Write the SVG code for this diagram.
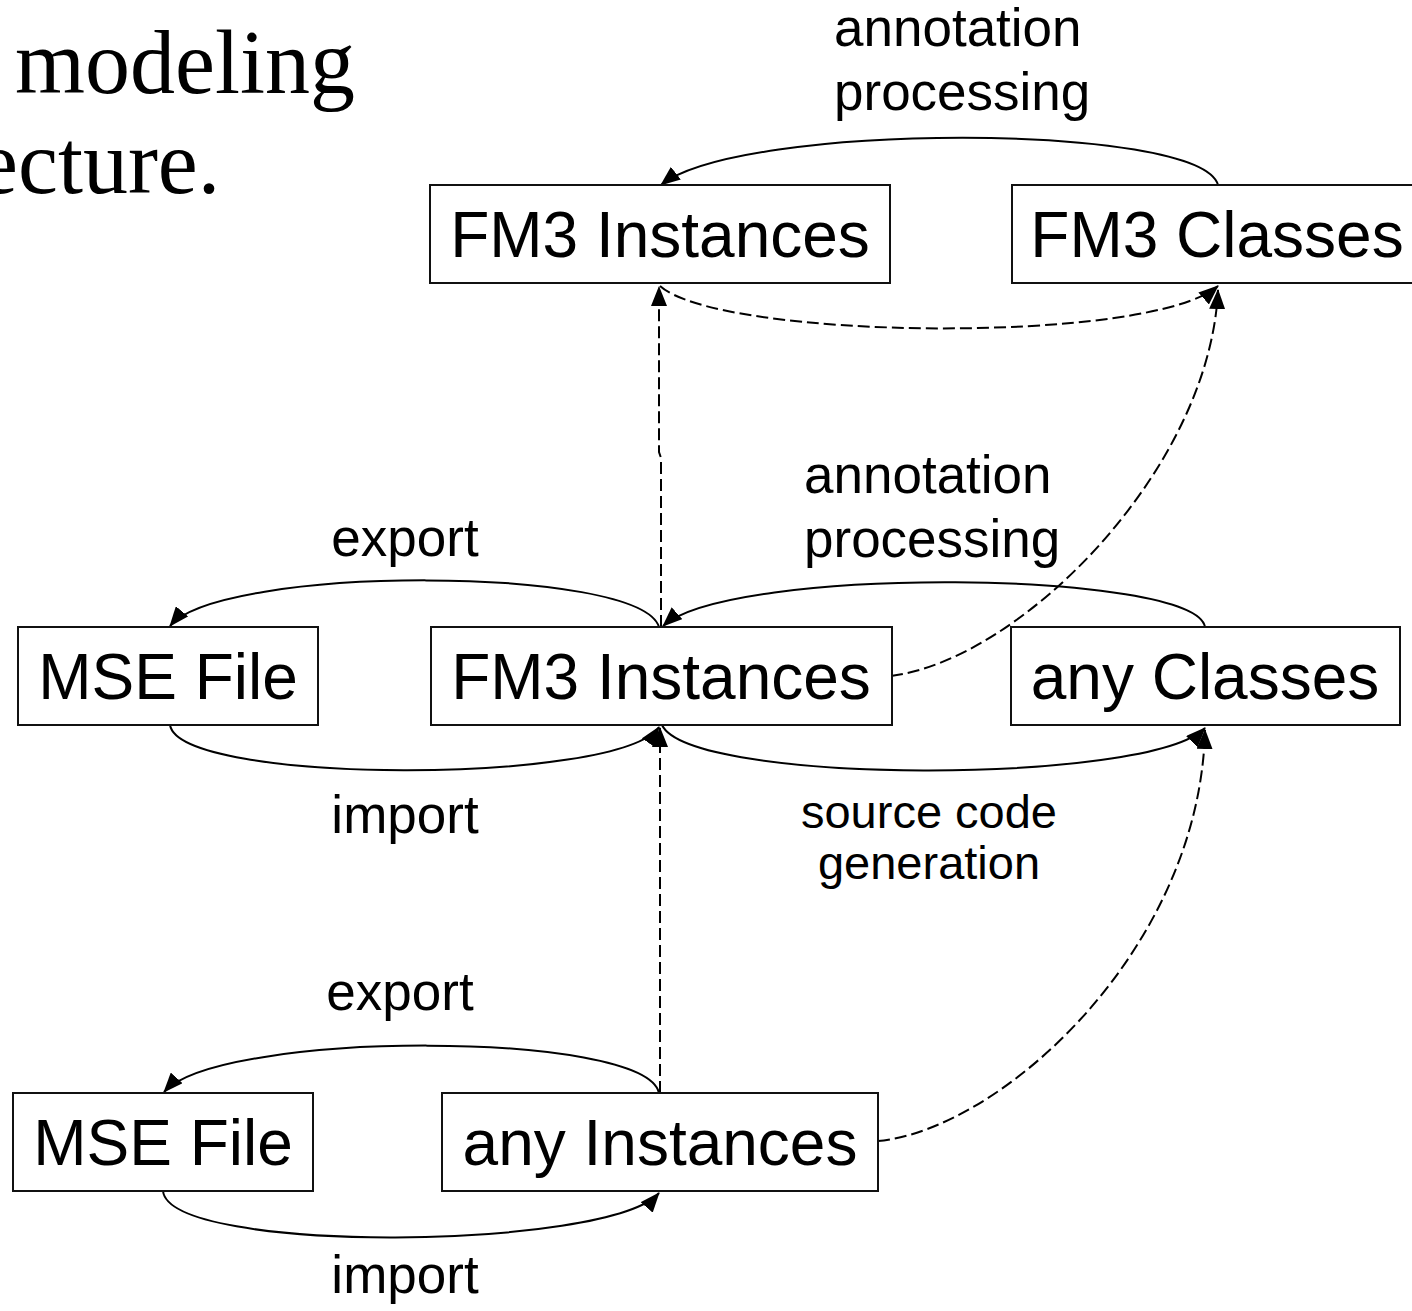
<svg xmlns="http://www.w3.org/2000/svg" width="1412" height="1311" viewBox="0 0 1412 1311">
<style>
.node rect{fill:#fff;stroke:#111;stroke-width:2}
.node text{font-family:"Liberation Sans",Arial,sans-serif;font-size:64px;fill:#000;text-anchor:middle}
.lbl{font-family:"Liberation Sans",Arial,sans-serif;font-size:53px;fill:#000}
.sm{font-size:47px}
.title{font-family:"Liberation Serif","DejaVu Serif",serif;font-size:90px;fill:#000}
.c{fill:none;stroke:#000;stroke-width:2;marker-end:url(#ah)}
.d{stroke-dasharray:12 5}
</style>
<defs>
<marker id="ah" viewBox="0 0 20 16" refX="19" refY="8" markerWidth="20" markerHeight="16" markerUnits="userSpaceOnUse" orient="auto">
<path d="M0,0 L20,8 L0,16 z" fill="#000"/>
</marker>
</defs>
<rect width="1412" height="1311" fill="#fff"/>
<text class="title" x="15" y="93">modeling</text>
<text class="title" x="-22" y="193">ecture.</text>

<g id="connectors">
<path class="c" d="M1218,185 C1200,122 740,122 661,185"/>
<path class="c d" d="M660,286 C720,340 1150,345 1218,286"/>
<path class="c d" d="M891,676 C1020,660 1210,470 1218,290"/>
<path class="c d" d="M661,627 L661,458 L659,452 L659,287"/>
<path class="c" d="M659,627 C640,565 220,565 170,626"/>
<path class="c" d="M1205,627 C1195,570 730,565 663,626"/>
<path class="c" d="M170,725 C180,785 620,785 659,727"/>
<path class="c" d="M662,725 C690,785 1150,785 1205,728"/>
<path class="c d" d="M660,1093 L660,728"/>
<path class="c d" d="M878,1141 C1000,1130 1200,950 1205,730"/>
<path class="c" d="M659,1093 C645,1030 220,1030 164,1092"/>
<path class="c" d="M163,1191 C170,1255 610,1250 659,1193"/>
</g>

<g id="labels">
<text class="lbl" x="834" y="46">annotation</text>
<text class="lbl" x="834" y="110">processing</text>
<text class="lbl" x="405" y="556" text-anchor="middle">export</text>
<text class="lbl" x="804" y="493">annotation</text>
<text class="lbl" x="804" y="557">processing</text>
<text class="lbl" x="405" y="833" text-anchor="middle">import</text>
<text class="lbl sm" x="929" y="828" text-anchor="middle">source code</text>
<text class="lbl sm" x="929" y="879" text-anchor="middle">generation</text>
<text class="lbl" x="400" y="1010" text-anchor="middle">export</text>
<text class="lbl" x="405" y="1293" text-anchor="middle">import</text>
</g>

<g id="fm3-instances-top" class="node"><rect x="430" y="185" width="460" height="98"/><text x="660" y="257">FM3 Instances</text></g>
<g id="fm3-classes" class="node"><rect x="1012" y="185" width="420" height="98"/><text x="1217" y="257">FM3 Classes</text></g>
<g id="mse-file-mid" class="node"><rect x="18" y="627" width="300" height="98"/><text x="168" y="699">MSE File</text></g>
<g id="fm3-instances-mid" class="node"><rect x="431" y="627" width="461" height="98"/><text x="661" y="699">FM3 Instances</text></g>
<g id="any-classes" class="node"><rect x="1011" y="627" width="389" height="98"/><text x="1205" y="699">any Classes</text></g>
<g id="mse-file-bottom" class="node"><rect x="13" y="1093" width="300" height="98"/><text x="163" y="1165">MSE File</text></g>
<g id="any-instances" class="node"><rect x="442" y="1093" width="436" height="98"/><text x="660" y="1165">any Instances</text></g>
</svg>
